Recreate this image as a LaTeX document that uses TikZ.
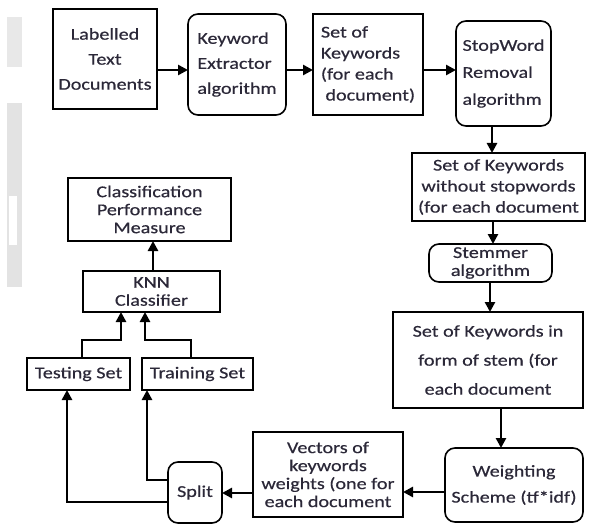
\documentclass[tikz,border=0pt]{standalone}
\usepackage{fontspec}
\setmainfont{Carlito}[FakeStretch=1.22, FakeBold=0.5]
\usetikzlibrary{arrows.meta}
\definecolor{txt}{HTML}{2B2838}
\begin{document}
\begin{tikzpicture}[x=1pt,y=-1pt,
  box/.style={draw=black, line width=1.6pt, inner sep=1pt, outer sep=0pt, align=center,
    font=\fontsize{16.5}{25}\selectfont, text=txt},
  rbox/.style={box, rounded corners=10pt},
  arr/.style={line width=2.6pt, -{Triangle[length=10pt,width=10pt]}},
  lnk/.style={line width=2.6pt}]
\useasboundingbox (0,0) rectangle (589,524);
% faint scan stripe at left edge
\fill[gray!18] (7,17) rectangle (22,67);
\fill[gray!22] (7,103) rectangle (22,287);
\fill[white] (9,196) rectangle (17,245);
% nodes
\node[box, minimum width=104pt, minimum height=100pt] (b1) at (105,59) {Labelled\\Text\\Documents};
\node[rbox, minimum width=98pt, minimum height=101pt, align=left] (b2) at (237,64.5) {Keyword\\Extractor\\algorithm};
\node[box, minimum width=110pt, minimum height=101pt, align=left, font=\fontsize{16.5}{21}\selectfont] (b3) at (368,64.5) {Set of\\Keywords\\(for each\\\ document)};
\node[rbox, minimum width=95pt, minimum height=105pt, align=left, font=\fontsize{16.5}{27}\selectfont] (b4) at (503.5,73.5) {StopWord\\Removal\\algorithm};
\node[box, minimum width=173pt, minimum height=68pt, font=\fontsize{16.5}{21}\selectfont] (b5) at (498.5,187) {Set of Keywords\\without stopwords\\(for each document};
\node[rbox, minimum width=123pt, minimum height=38pt, font=\fontsize{16.5}{18}\selectfont] (b6) at (490.5,263) {Stemmer\\algorithm};
\node[box, minimum width=190pt, minimum height=96pt, font=\fontsize{16.5}{29}\selectfont] (b7) at (488,360) {Set of Keywords in\\form of stem (for\\each document};
\node[rbox, minimum width=138pt, minimum height=74pt, font=\fontsize{16.5}{26}\selectfont] (b8) at (514,485) {Weighting\\Scheme (tf*idf)};
\node[box, minimum width=150pt, minimum height=85pt, font=\fontsize{16.5}{18}\selectfont] (b9) at (328,474.5) {Vectors of\\keywords\\weights (one for\\each document};
\node[rbox, minimum width=54pt, minimum height=61pt] (split) at (195,492.5) {Split};
\node[box, minimum width=103pt, minimum height=32pt] (test) at (78.5,374) {Testing Set};
\node[box, minimum width=111pt, minimum height=32pt] (train) at (197.5,374) {Training Set};
\node[box, minimum width=137pt, minimum height=41pt, font=\fontsize{16.5}{18}\selectfont] (knn) at (151.5,291.5) {KNN\\Classifier};
\node[box, minimum width=163pt, minimum height=63pt, font=\fontsize{16.5}{18}\selectfont] (cls) at (149.5,209.5) {Classification\\Performance\\Measure};
% connectors
\draw[arr] (b1.east |- 0,70) -- (b2.west |- 0,70);
\draw[arr] (b2.east |- 0,70) -- (b3.west |- 0,70);
\draw[arr] (b3.east |- 0,70) -- (b4.west |- 0,70);
\draw[arr] (b4.south -| 492,0) -- (b5.north -| 492,0);
\draw[arr] (b5.south -| 493,0) -- (b6.north -| 493,0);
\draw[arr] (b6.south -| 490,0) -- (b7.north -| 490,0);
\draw[arr] (b7.south -| 501,0) -- (b8.north -| 501,0);
\draw[arr] (b8.west |- 0,492) -- (b9.east |- 0,492);
\draw[arr] (b9.west |- 0,493) -- (split.east |- 0,493);
\draw[arr] (split.west |- 0,480) -| (train.south -| 147,0);
\draw[arr] (split.west |- 0,502) -| (test.south -| 67,0);
\draw[arr] (test.north -| 82,0) |- (121,340) -- (knn.south -| 121,0);
\draw[arr] (train.north -| 191,0) |- (145,340) -- (knn.south -| 145,0);
\draw[arr] (knn.north -| 153,0) -- (cls.south -| 153,0);
\end{tikzpicture}
\end{document}
